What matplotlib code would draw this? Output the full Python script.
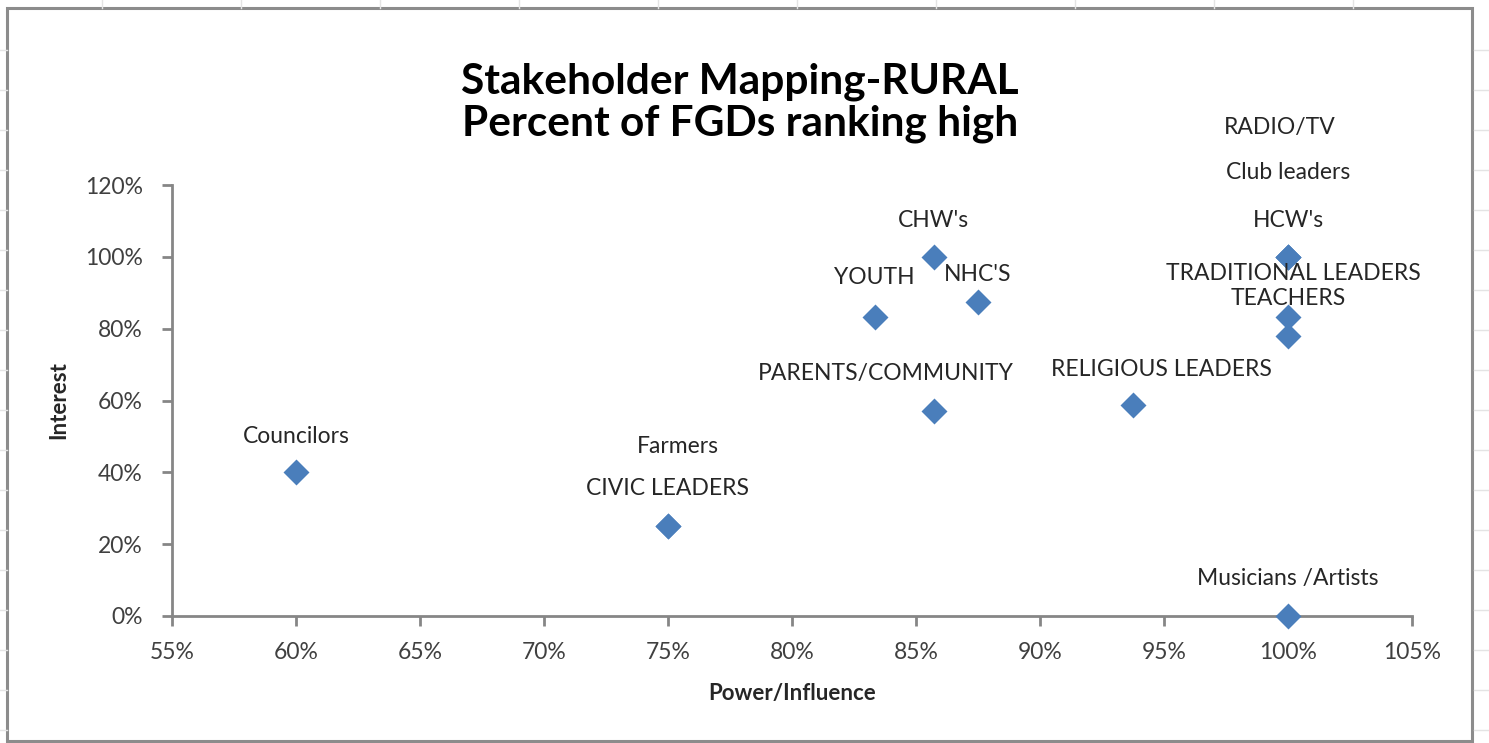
import matplotlib.pyplot as plt
from matplotlib.ticker import PercentFormatter
from matplotlib.patches import Rectangle
from matplotlib.lines import Line2D

# stakeholder data (percent of FGDs ranking high)
stakeholders = ["Councilors", "Farmers", "CIVIC LEADERS", "YOUTH", "CHW's", "NHC'S",
                "PARENTS/COMMUNITY", "RELIGIOUS LEADERS", "RADIO/TV", "Club leaders",
                "HCW's", "TRADITIONAL LEADERS", "TEACHERS", "Musicians /Artists"]
power = [0.60, 0.75, 0.75, 0.8333, 0.8571, 0.875, 0.8571, 0.9375,
         1.0, 1.0, 1.0, 1.0, 1.0, 1.0]
interest = [0.40, 0.25, 0.25, 0.8333, 1.0, 0.875, 0.5714, 0.5875,
            1.0, 1.0, 1.0, 0.8333, 0.78, 0.0]

# label offsets from the point, in pixels (dx right, dy up)
label_off = {
    "Councilors": (0, 36), "Farmers": (10, 80), "CIVIC LEADERS": (0, 38),
    "YOUTH": (0, 39), "CHW's": (0, 36), "NHC'S": (0, 27),
    "PARENTS/COMMUNITY": (-48, 37), "RELIGIOUS LEADERS": (28, 35),
    "RADIO/TV": (-8, 129), "Club leaders": (0, 84), "HCW's": (0, 36),
    "TRADITIONAL LEADERS": (5, 43), "TEACHERS": (0, 37),
    "Musicians /Artists": (0, 37),
}

W, H, DPI = 1489, 743, 100
fig = plt.figure(figsize=(W / DPI, H / DPI), dpi=DPI)
plt.rcParams['font.family'] = ['Lato', 'DejaVu Sans']

# faint spreadsheet grid behind the chart
grid_c = '#e4e4e4'
for gx in [102, 241, 380, 519, 658, 797, 936, 1075, 1214, 1353]:
    fig.add_artist(Line2D([gx / W, gx / W], [1 - 8 / H, 1], color=grid_c, lw=1))
for gy in [50, 90, 130, 170, 210, 250, 290, 330, 370, 410, 450, 490, 530, 570, 610, 650, 690, 730]:
    fig.add_artist(Line2D([0, 7 / W], [1 - gy / H, 1 - gy / H], color=grid_c, lw=1))
    fig.add_artist(Line2D([1474 / W, 1], [1 - gy / H, 1 - gy / H], color=grid_c, lw=1))

# chart border
fig.add_artist(Rectangle((7 / W, 1 - 741 / H), (1472 - 7) / W, (741 - 8) / H,
                         fill=False, edgecolor='#8c8c8c', lw=2.2))

ax = fig.add_axes([172 / W, 1 - 616 / H, (1412 - 172) / W, (616 - 185) / H])
ax.scatter(power, interest, marker='D', s=175, color='#4a7ebb', zorder=3, clip_on=False,
           linewidths=0)

px2pt = 72 / DPI
for name, x, y in zip(stakeholders, power, interest):
    dx, dy = label_off[name]
    ax.annotate(name, (x, y), xytext=(dx * px2pt, dy * px2pt), textcoords='offset points',
                ha='center', va='center', fontsize=16.5, color='#262626')

ax.set_xlim(0.55, 1.05)
ax.set_ylim(0, 1.2)
ax.set_xticks([0.55, 0.60, 0.65, 0.70, 0.75, 0.80, 0.85, 0.90, 0.95, 1.00, 1.05])
ax.set_yticks([0, 0.2, 0.4, 0.6, 0.8, 1.0, 1.2])
ax.xaxis.set_major_formatter(PercentFormatter(1.0, decimals=0))
ax.yaxis.set_major_formatter(PercentFormatter(1.0, decimals=0))

for s in ['top', 'right']:
    ax.spines[s].set_visible(False)
for s in ['left', 'bottom']:
    ax.spines[s].set_color('#868686')
    ax.spines[s].set_linewidth(2)
ax.tick_params(axis='both', colors='#868686', width=2, length=7, labelsize=16.5,
               labelcolor='#404040')
ax.tick_params(axis='x', pad=12)
ax.tick_params(axis='y', pad=14)

ax.set_xlabel('Power/Influence', fontsize=16, fontweight='bold', color='#262626', labelpad=14)
ax.set_ylabel('Interest', fontsize=16, fontweight='bold', color='#262626', labelpad=11)

fig.text(740 / W, 1 - 82 / H, 'Stakeholder Mapping-RURAL', ha='center', va='center',
         fontsize=30.5, fontweight='bold', color='black')
fig.text(740 / W, 1 - 124 / H, 'Percent of FGDs ranking high', ha='center', va='center',
         fontsize=30.5, fontweight='bold', color='black')

fig.savefig('out.png', dpi=DPI)
